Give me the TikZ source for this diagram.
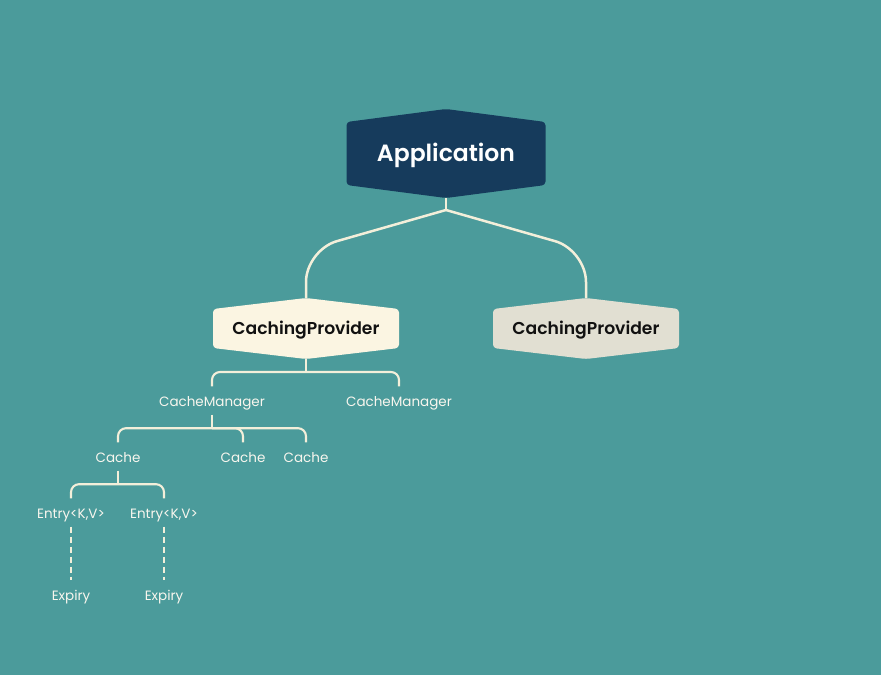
\documentclass[tikz,border=0pt]{standalone}
\usepackage{fontspec}
\setmainfont{Poppins}[BoldFont={Poppins SemiBold}]
\usetikzlibrary{calc}
\definecolor{bgteal}{HTML}{4B9B9B}
\definecolor{appfill}{HTML}{163B5C}
\definecolor{cpfillA}{HTML}{FBF5E2}
\definecolor{cpfillB}{HTML}{E1DFD2}
\definecolor{linecol}{HTML}{F3EFDA}
\definecolor{labcol}{HTML}{F8F6EE}
\definecolor{cptext}{HTML}{111111}
\tikzset{
  hexnode/.style n args={4}{% width, height, corner drop, fill
    minimum width=#1, minimum height=#2, inner sep=0pt, outer sep=0pt,
    text depth=0pt,
    path picture={
      \fill[#4, rounded corners=3.5pt]
        (path picture bounding box.north)
        -- ($(path picture bounding box.north east)+(0,-#3)$)
        -- ($(path picture bounding box.south east)+(0,#3)$)
        -- (path picture bounding box.south)
        -- ($(path picture bounding box.south west)+(0,#3)$)
        -- ($(path picture bounding box.north west)+(0,-#3)$)
        -- cycle;
    }},
  appbox/.style={hexnode={199pt}{89pt}{13pt}{appfill}, text=white,
    text height=16.5pt, font=\fontsize{23.5}{27}\selectfont\bfseries},
  cpbox/.style={hexnode={186pt}{61pt}{11pt}{#1}, text=cptext,
    text height=12pt, font=\fontsize{17.2}{20}\selectfont\bfseries},
  lab/.style={inner xsep=0pt, inner ysep=8.5pt, text height=11pt, text depth=0pt,
    text=labcol, font=\fontsize{13.5}{16}\selectfont},
  conn/.style={draw=linecol, line width=2.5pt},
  brk/.style={conn, line width=2.1pt, rounded corners=8pt},
  dashconn/.style={draw=linecol, line width=2pt, dash pattern=on 6pt off 4pt}
}
\begin{document}
\begin{tikzpicture}[x=1pt,y=1pt]
\fill[bgteal] (0,0) rectangle (881,-675);
\useasboundingbox (0,0) rectangle (881,-675);

% nodes
\node[appbox] (app) at (446,-153.5) {Application};
\node[cpbox=cpfillA] (cpL) at (306,-328.5) {CachingProvider};
\node[cpbox=cpfillB] (cpR) at (586,-328.5) {CachingProvider};

\node[lab] (cm1) at (212,-400.5) {CacheManager};
\node[lab] (cm2) at (399,-400.5) {CacheManager};

\node[lab] (c1) at (118,-456.5) {Cache};
\node[lab] (c2) at (243,-456.5) {Cache};
\node[lab] (c3) at (306,-456.5) {Cache};

\node[lab] (e1) at (71,-512.5) {Entry<K,V>};
\node[lab] (e2) at (164,-512.5) {Entry<K,V>};

\node[lab] (x1) at (71,-594.5) {Expiry};
\node[lab] (x2) at (164,-594.5) {Expiry};

% Application -> CachingProviders
\draw[conn] (app.south) -- ++(0,-12) coordinate (appj);
\draw[conn, rounded corners=32pt] (appj) -- ($(cpL.north |- appj)+(0,-40)$) -- (cpL.north);
\draw[conn, rounded corners=32pt] (appj) -- ($(cpR.north |- appj)+(0,-40)$) -- (cpR.north);

% CachingProvider -> CacheManagers
\draw[conn, line width=2.1pt] (cpL.south) -- ++(0,-13) coordinate (cpj);
\draw[brk] (cm1.north) -- (cm1.north |- cpj) -- (cm2.north |- cpj) -- (cm2.north);

% CacheManager -> Caches
\draw[conn, line width=2.1pt] (cm1.south) -- ++(0,-13.5) coordinate (cmj);
\draw[brk] (c1.north) -- (c1.north |- cmj) -- (c3.north |- cmj) -- (c3.north);
\draw[brk] (cmj) -- (c2.north |- cmj) -- (c2.north);

% Cache -> Entries
\draw[conn, line width=2.1pt] (c1.south) -- ++(0,-13.5) coordinate (cj);
\draw[brk] (e1.north) -- (e1.north |- cj) -- (e2.north |- cj) -- (e2.north);

% Entries -> Expiry
\draw[dashconn] (e1.south) -- (x1.north);
\draw[dashconn] (e2.south) -- (x2.north);
\end{tikzpicture}
\end{document}
